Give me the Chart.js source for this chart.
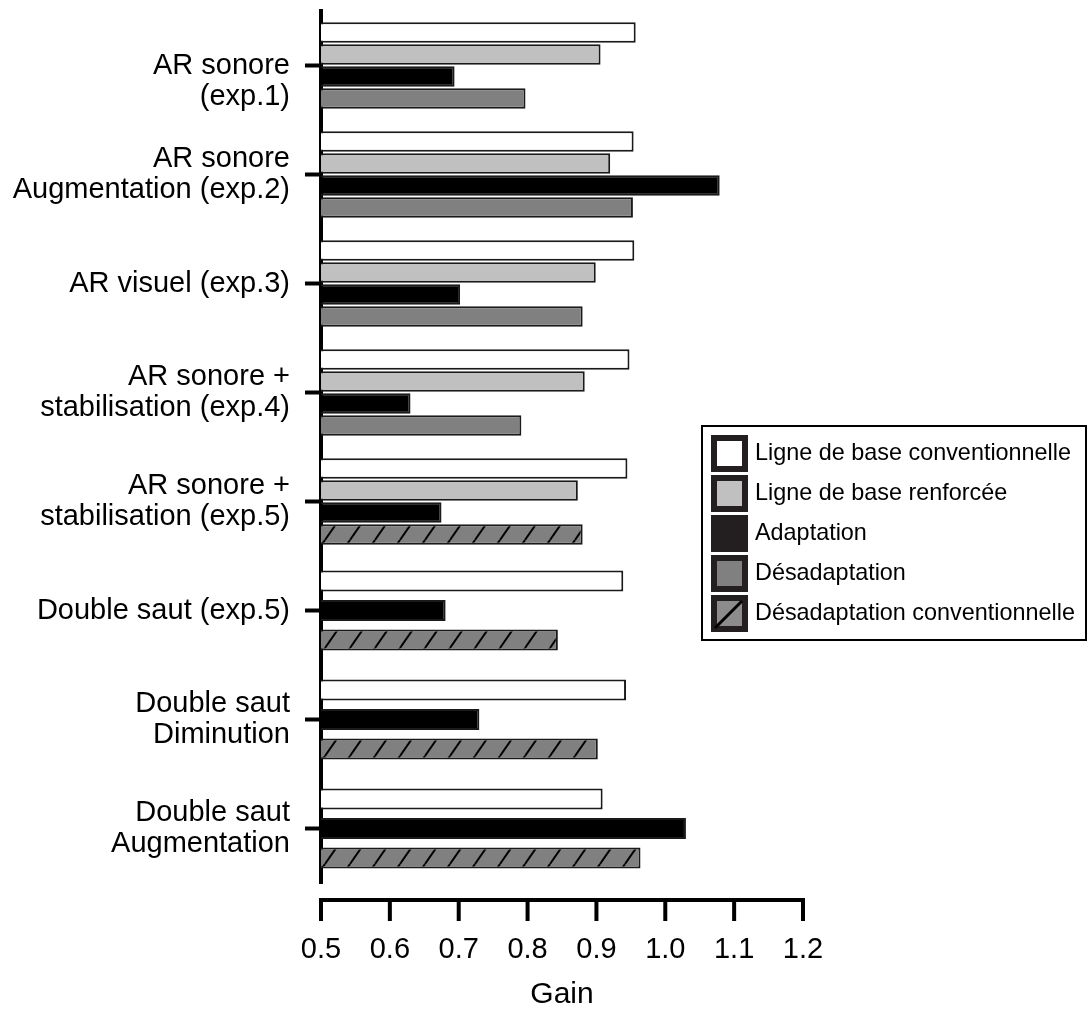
<!DOCTYPE html>
<html>
<head>
<meta charset="utf-8">
<script src="https://cdn.jsdelivr.net/npm/chart.js@4"></script>
<style>
body { margin: 0; background: #fff; }
#wrap { width: 1091px; height: 1014px; position: relative; }
</style>
</head>
<body>
<div id="wrap"><canvas id="myChart"></canvas></div>
<script>
// categories (first label gets an empty line so it sits like the original)
const categories = [
    ['', 'AR sonore', '(exp.1)'],
    ['AR sonore', 'Augmentation (exp.2)'],
    'AR visuel (exp.3)',
    ['AR sonore +', 'stabilisation (exp.4)'],
    ['AR sonore +', 'stabilisation (exp.5)'],
    'Double saut (exp.5)',
    ['Double saut', 'Diminution'],
    ['Double saut', 'Augmentation']
];

const seriesNames = [
    'Ligne de base conventionnelle',
    'Ligne de base renforcée',
    'Adaptation',
    'Désadaptation',
    'Désadaptation conventionnelle'
];

const baseConv = [0.957, 0.954, 0.955, 0.948, 0.945, 0.939, 0.943, 0.909];
const baseRenf = [0.906, 0.920, 0.899, 0.883, 0.873, null, null, null];
const adaptation = [0.694, 1.079, 0.702, 0.630, 0.675, 0.681, 0.730, 1.030];
const desadapt = [0.797, 0.953, 0.880, 0.791, null, null, null, null];
const desadaptConv = [null, null, null, null, 0.880, 0.844, 0.902, 0.964];

const xMin = 0.5;
const xMax = 1.2;
const xStep = 0.1;

Chart.defaults.font.family = "'Liberation Sans', Arial, sans-serif";
Chart.defaults.color = '#000';

function makeHatch() {
    const c = document.createElement('canvas');
    c.width = 25;
    c.height = 36;
    const g = c.getContext('2d');
    g.fillStyle = '#808080';
    g.fillRect(0, 0, 25, 36);
    g.strokeStyle = '#000';
    g.lineWidth = 2;
    for (const off of [-25, 0, 25]) {
        g.beginPath();
        g.moveTo(off, 36);
        g.lineTo(off + 25, 0);
        g.stroke();
    }
    return g.createPattern(c, 'repeat');
}

const hatch = makeHatch();

// x axis drawn a little below the plot, like the original
const offsetAxis = {
    id: 'offsetAxis',
    afterDraw(chart) {
        const x = chart.scales.x;
        const ctx = chart.ctx;
        const y0 = chart.chartArea.bottom + 17;
        ctx.save();
        ctx.strokeStyle = '#000';
        ctx.lineWidth = 4;
        ctx.beginPath();
        ctx.moveTo(x.getPixelForValue(xMin) - 2, y0);
        ctx.lineTo(x.getPixelForValue(xMax) + 2, y0);
        x.ticks.forEach(t => {
            const px = x.getPixelForValue(t.value);
            ctx.moveTo(px, y0);
            ctx.lineTo(px, y0 + 21);
        });
        ctx.stroke();
        ctx.restore();
    }
};

// boxed legend on the right
const boxLegend = {
    id: 'boxLegend',
    afterDraw(chart) {
        const ctx = chart.ctx;
        ctx.save();
        ctx.strokeStyle = '#000';
        ctx.lineWidth = 2;
        ctx.strokeRect(702, 426, 384, 214);
        ctx.font = "23.4px 'Liberation Sans', Arial, sans-serif";
        ctx.textBaseline = 'middle';
        ctx.textAlign = 'left';
        chart.data.datasets.forEach((ds, i) => {
            const sx = 711;
            const sy = 435 + i * 40;
            ctx.fillStyle = '#231f20';
            ctx.fillRect(sx, sy, 37, 37);
            ctx.fillStyle = ds.hatched ? '#8c8c8c' : ds.backgroundColor;
            if (ds.backgroundColor !== '#000000') {
                ctx.fillRect(sx + 6, sy + 6, 25, 25);
            }
            if (ds.hatched) {
                ctx.strokeStyle = '#000';
                ctx.lineWidth = 3;
                ctx.beginPath();
                ctx.moveTo(sx + 4, sy + 33);
                ctx.lineTo(sx + 31, sy + 6);
                ctx.stroke();
            }
            ctx.fillStyle = '#000';
            ctx.fillText(ds.label, 755, sy + 19);
        });
        ctx.restore();
    }
};

const barStyle = {
    borderColor: '#1a1a1a',
    borderWidth: 2,
    borderSkipped: false,
    categoryPercentage: 0.81,
    barPercentage: 0.93,
    maxBarThickness: 21,
    skipNull: true
};

const ctx = document.getElementById('myChart').getContext('2d');
const myChart = new Chart(ctx, {
    type: 'bar',
    data: {
        labels: categories,
        datasets: [
            { label: seriesNames[0], data: baseConv, backgroundColor: '#ffffff', ...barStyle },
            { label: seriesNames[1], data: baseRenf, backgroundColor: '#c0c0c0', ...barStyle },
            { label: seriesNames[2], data: adaptation, backgroundColor: '#000000', ...barStyle },
            { label: seriesNames[3], data: desadapt, backgroundColor: '#808080', ...barStyle },
            { label: seriesNames[4], data: desadaptConv, backgroundColor: hatch, hatched: true, ...barStyle }
        ]
    },
    options: {
        indexAxis: 'y',
        responsive: true,
        maintainAspectRatio: false,
        animation: false,
        layout: { padding: { top: 11, right: 288, left: 0, bottom: 0 } },
        plugins: {
            legend: { display: false },
            tooltip: { enabled: false }
        },
        scales: {
            x: {
                min: xMin,
                max: xMax,
                border: { display: false },
                grid: { display: false, drawTicks: false },
                ticks: {
                    stepSize: xStep,
                    padding: 50,
                    font: { size: 29 },
                    callback: v => Number(v).toFixed(1)
                },
                title: {
                    display: true,
                    text: 'Gain',
                    font: { size: 30 },
                    padding: { top: 0, bottom: 1 }
                },
                afterFit: s => { s.height = 131; }
            },
            y: {
                border: { display: true, color: '#000', width: 4 },
                grid: {
                    offset: false,
                    drawOnChartArea: false,
                    drawTicks: true,
                    tickLength: 16,
                    tickWidth: 4,
                    tickColor: '#000'
                },
                ticks: {
                    padding: 15,
                    font: { size: 29, lineHeight: 1.1 }
                },
                afterFit: s => {
                    s.width = 321;
                    s.paddingTop = 0;
                    s.paddingBottom = 0;
                }
            }
        }
    },
    plugins: [offsetAxis, boxLegend]
});
</script>
</body>
</html>
